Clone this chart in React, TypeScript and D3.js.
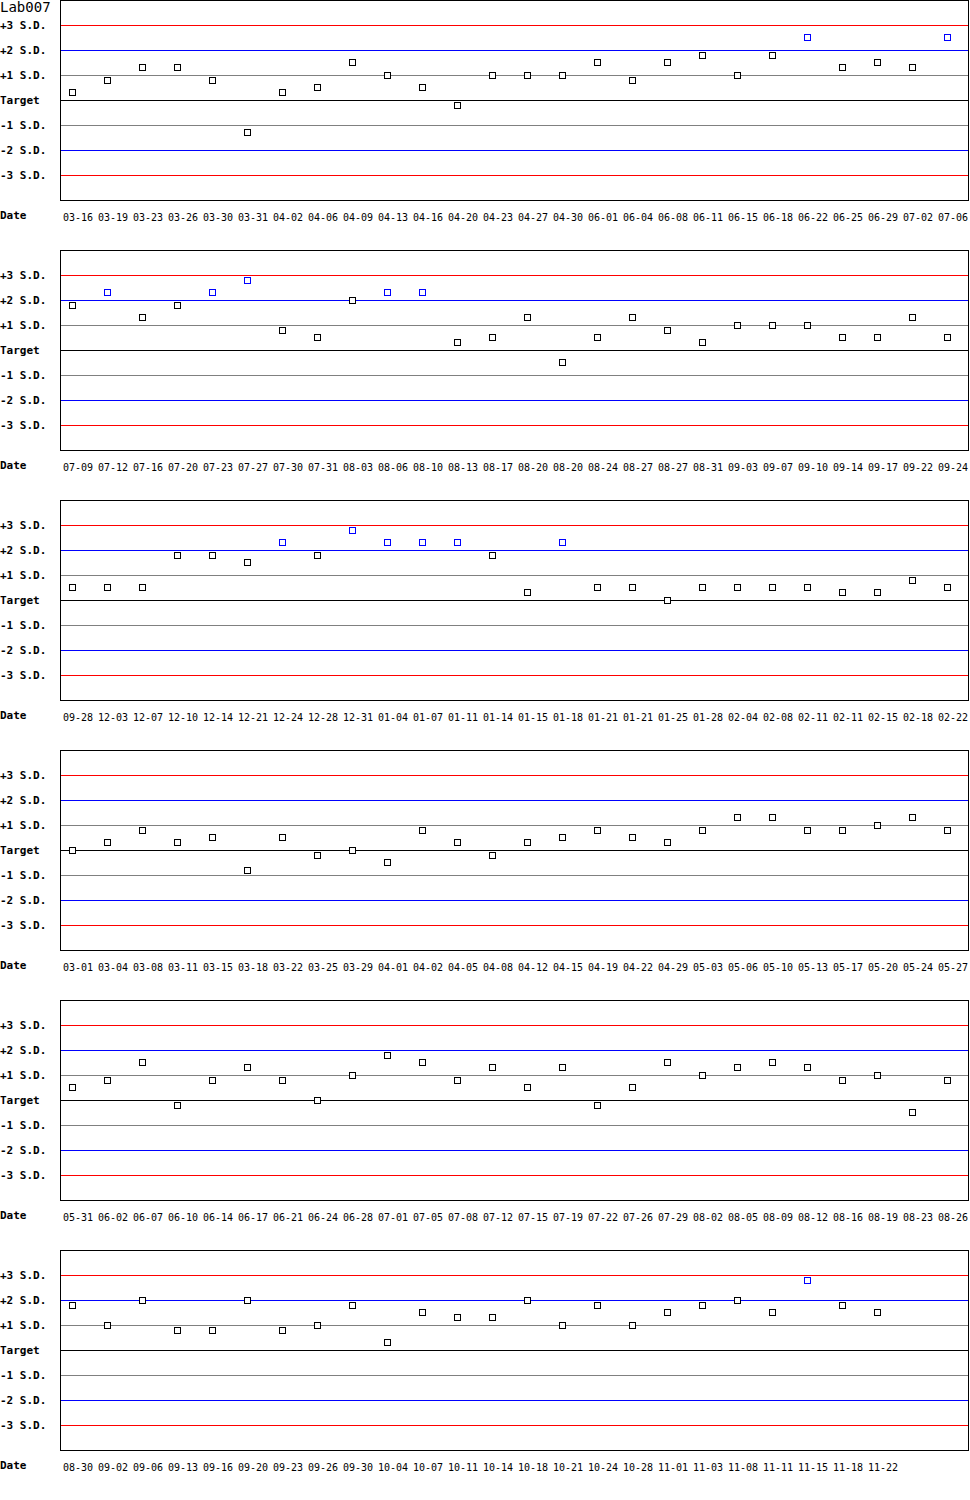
import React from 'react';
import * as d3 from 'd3';

// Lab007 QC chart: values in S.D. units from target
const dates1 = ['03-16', '03-19', '03-23', '03-26', '03-30', '03-31', '04-02', '04-06', '04-09', '04-13', '04-16', '04-20', '04-23', '04-27', '04-30', '06-01', '06-04', '06-08', '06-11', '06-15', '06-18', '06-22', '06-25', '06-29', '07-02', '07-06'];
const values1 = [0.3, 0.8, 1.3, 1.3, 0.8, -1.3, 0.3, 0.5, 1.5, 1.0, 0.5, -0.2, 1.0, 1.0, 1.0, 1.5, 0.8, 1.5, 1.8, 1.0, 1.8, 2.5, 1.3, 1.5, 1.3, 2.5];

const dates2 = ['07-09', '07-12', '07-16', '07-20', '07-23', '07-27', '07-30', '07-31', '08-03', '08-06', '08-10', '08-13', '08-17', '08-20', '08-20', '08-24', '08-27', '08-27', '08-31', '09-03', '09-07', '09-10', '09-14', '09-17', '09-22', '09-24'];
const values2 = [1.8, 2.3, 1.3, 1.8, 2.3, 2.8, 0.8, 0.5, 2.0, 2.3, 2.3, 0.3, 0.5, 1.3, -0.5, 0.5, 1.3, 0.8, 0.3, 1.0, 1.0, 1.0, 0.5, 0.5, 1.3, 0.5];

const dates3 = ['09-28', '12-03', '12-07', '12-10', '12-14', '12-21', '12-24', '12-28', '12-31', '01-04', '01-07', '01-11', '01-14', '01-15', '01-18', '01-21', '01-21', '01-25', '01-28', '02-04', '02-08', '02-11', '02-11', '02-15', '02-18', '02-22'];
const values3 = [0.5, 0.5, 0.5, 1.8, 1.8, 1.5, 2.3, 1.8, 2.8, 2.3, 2.3, 2.3, 1.8, 0.3, 2.3, 0.5, 0.5, 0.0, 0.5, 0.5, 0.5, 0.5, 0.3, 0.3, 0.8, 0.5];

const dates4 = ['03-01', '03-04', '03-08', '03-11', '03-15', '03-18', '03-22', '03-25', '03-29', '04-01', '04-02', '04-05', '04-08', '04-12', '04-15', '04-19', '04-22', '04-29', '05-03', '05-06', '05-10', '05-13', '05-17', '05-20', '05-24', '05-27'];
const values4 = [0.0, 0.3, 0.8, 0.3, 0.5, -0.8, 0.5, -0.2, 0.0, -0.5, 0.8, 0.3, -0.2, 0.3, 0.5, 0.8, 0.5, 0.3, 0.8, 1.3, 1.3, 0.8, 0.8, 1.0, 1.3, 0.8];

const dates5 = ['05-31', '06-02', '06-07', '06-10', '06-14', '06-17', '06-21', '06-24', '06-28', '07-01', '07-05', '07-08', '07-12', '07-15', '07-19', '07-22', '07-26', '07-29', '08-02', '08-05', '08-09', '08-12', '08-16', '08-19', '08-23', '08-26'];
const values5 = [0.5, 0.8, 1.5, -0.2, 0.8, 1.3, 0.8, 0.0, 1.0, 1.8, 1.5, 0.8, 1.3, 0.5, 1.3, -0.2, 0.5, 1.5, 1.0, 1.3, 1.5, 1.3, 0.8, 1.0, -0.5, 0.8];

const dates6 = ['08-30', '09-02', '09-06', '09-13', '09-16', '09-20', '09-23', '09-26', '09-30', '10-04', '10-07', '10-11', '10-14', '10-18', '10-21', '10-24', '10-28', '11-01', '11-03', '11-08', '11-11', '11-15', '11-18', '11-22'];
const values6 = [1.8, 1.0, 2.0, 0.8, 0.8, 2.0, 0.8, 1.0, 1.8, 0.3, 1.5, 1.3, 1.3, 2.0, 1.0, 1.8, 1.0, 1.5, 1.8, 2.0, 1.5, 2.8, 1.8, 1.5];

const sdLevels = [3, 2, 1, 0, -1, -2, -3];
const sdLabels = ['+3 S.D.', '+2 S.D.', '+1 S.D.', 'Target', '-1 S.D.', '-2 S.D.', '-3 S.D.'];
const sdColors = ['#ff0000', '#0000ff', '#808080', '#000000', '#808080', '#0000ff', '#ff0000'];

const panels = [
  { dates: dates1, values: values1 },
  { dates: dates2, values: values2 },
  { dates: dates3, values: values3 },
  { dates: dates4, values: values4 },
  { dates: dates5, values: values5 },
  { dates: dates6, values: values6 },
];

const width = 970;
const panelH = 250;
const plotLeft = 60;
const plotRight = 968;
const plotH = 200;
const slots = 26;
const font = '"DejaVu Sans Mono", monospace';

const x = d3.scaleLinear().domain([0, slots - 1]).range([72, 72 + (slots - 1) * 35]);
const y = d3.scaleLinear().domain([-4, 4]).range([plotH, 0]);

const Panel: React.FC<{ dates: string[]; values: number[]; top: number }> = ({ dates, values, top }) => (
  <g transform={`translate(0,${top})`}>
    <rect x={plotLeft + 0.5} y={0.5} width={plotRight - plotLeft} height={plotH} fill="#fff" stroke="#000" />
    {sdLevels.map((s, i) => (
      <g key={s}>
        <line x1={plotLeft + 1} x2={plotRight} y1={y(s) + 0.5} y2={y(s) + 0.5} stroke={sdColors[i]} />
        <text x={0} y={y(s)} dy="0.35em" fontFamily={font} fontWeight="bold" fontSize={11}>
          {sdLabels[i]}
        </text>
      </g>
    ))}
    <text x={0} y={215} dy="0.35em" fontFamily={font} fontWeight="bold" fontSize={11}>Date</text>
    {dates.map((d, i) => (
      <text key={i} x={x(i) - 9} y={217} dy="0.35em" fontFamily={font} fontSize={10}>{d}</text>
    ))}
    {values.map((v, i) => {
      const cx = Math.round(x(i));
      const cy = Math.floor(y(v));
      return (
        <rect key={i} x={cx - 3 + 0.5} y={cy - 3 + 0.5} width={6} height={6}
          fill="#fff" stroke={v > 2 ? '#0000ff' : '#000'} strokeWidth={1} />
      );
    })}
  </g>
);

export default function App() {
  return (
    <svg width={width} height={1500} style={{ position: 'absolute', left: 0, top: 0, background: '#fff' }}
      shapeRendering="crispEdges">
      <rect width={width} height={1500} fill="#fff" />
      {panels.map((p, i) => (
        <Panel key={i} dates={p.dates} values={p.values} top={i * panelH} />
      ))}
      <text x={0} y={7} dy="0.35em" fontFamily={font} fontSize={14}>Lab007</text>
    </svg>
  );
}
